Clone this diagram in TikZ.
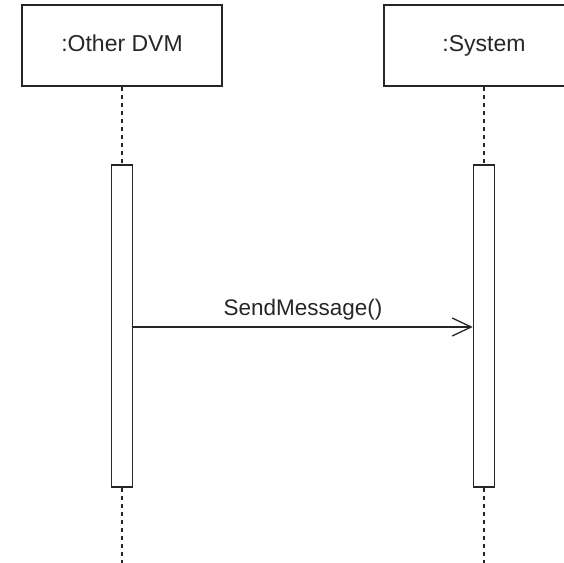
\documentclass[tikz,border=0pt]{standalone}
\usepackage{fontspec}
\setmainfont{Liberation Sans}
\usetikzlibrary{arrows.meta}
\tikzset{
  lifebox/.style={draw=black!85, line width=1.6pt, fill=white, minimum width=200pt, minimum height=81pt, inner sep=0pt, text height=16.5pt, text depth=4.5pt, font=\fontsize{23}{27}\selectfont, text=black!85},
  actbar/.style={draw=black!85, line width=1.6pt, fill=white, minimum width=21pt, minimum height=322pt, inner sep=0pt},
  lifeline/.style={draw=black!85, line width=1.6pt, dash pattern=on 4pt off 4pt},
  msg/.style={draw=black!85, line width=1.3pt, -{Straight Barb[length=19pt,width=18pt,line width=1.3pt]}},
  msglabel/.style={font=\fontsize{22.5}{27}\selectfont, text=black!85, inner sep=0pt}
}
\begin{document}
\begin{tikzpicture}[x=1pt,y=-1pt]
\useasboundingbox (0,0) rectangle (564,562);
\begin{scope}
\clip (0,0) rectangle (564,562);
\node[lifebox] (other) at (122,45.5) {:Other DVM};
\node[lifebox] (system) at (484,45.5) {:System};
\node[actbar] (bar1) at (122,326) {};
\node[actbar] (bar2) at (484,326) {};
\coordinate (end1) at (122,563);
\coordinate (end2) at (484,563);
\draw[lifeline] (other.south) -- (bar1.north);
\draw[lifeline] (system.south) -- (bar2.north);
\draw[lifeline] (bar1.south) -- (end1);
\draw[lifeline] (bar2.south) -- (end2);
\draw[msg] (bar1.east |- 0,327) -- (bar2.west |- 0,327) node[msglabel, midway, above=6pt] (lbl) {SendMessage()};
\end{scope}
\end{tikzpicture}
\end{document}
